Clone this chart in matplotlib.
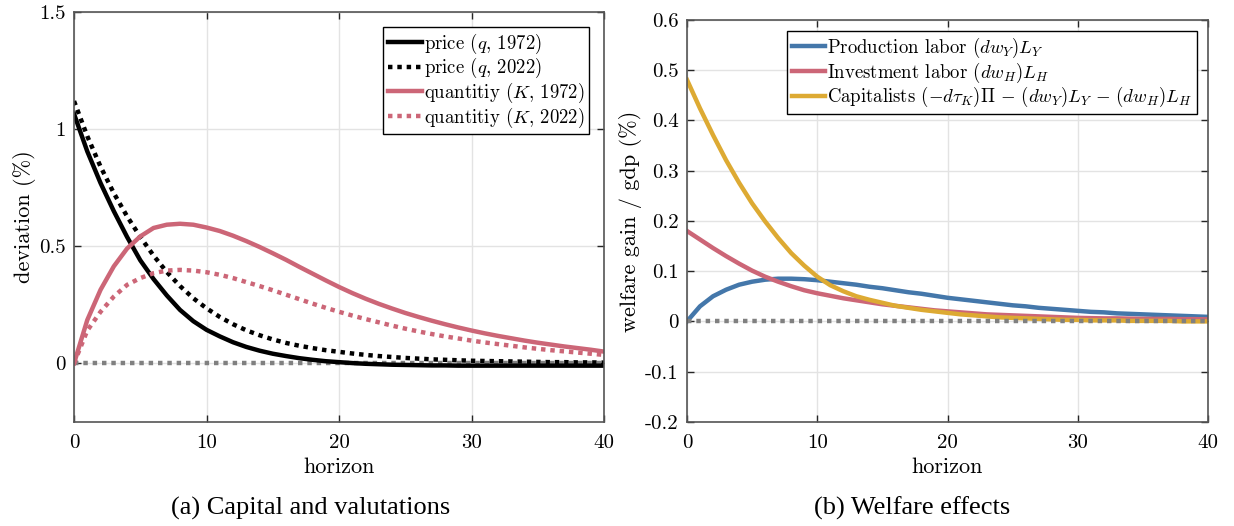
import numpy as np
import matplotlib
matplotlib.use("Agg")
import matplotlib.pyplot as plt

plt.rcParams["font.family"] = "cmr10"
plt.rcParams["mathtext.fontset"] = "cm"
plt.rcParams["axes.unicode_minus"] = False

horizon = np.arange(41)

# panel (a): capital and valuations, % deviation
price_1972 = [1.065, 0.905, 0.77, 0.65, 0.54, 0.44, 0.36, 0.29, 0.228, 0.18,
              0.143, 0.115, 0.09, 0.07, 0.054, 0.041, 0.031, 0.022, 0.015, 0.009,
              0.005, 0.001, -0.002, -0.004, -0.006, -0.007, -0.008, -0.009, -0.009, -0.01,
              -0.01, -0.01, -0.01, -0.01, -0.01, -0.01, -0.01, -0.01, -0.01, -0.01, -0.01]
price_2022 = [1.12, 0.97, 0.84, 0.727, 0.628, 0.54, 0.46, 0.39, 0.33, 0.278,
              0.235, 0.198, 0.167, 0.141, 0.12, 0.102, 0.087, 0.075, 0.065, 0.056,
              0.049, 0.042, 0.036, 0.031, 0.027, 0.023, 0.02, 0.017, 0.015, 0.013,
              0.011, 0.01, 0.009, 0.008, 0.007, 0.006, 0.005, 0.005, 0.004, 0.004, 0.003]
quant_1972 = [0.0, 0.185, 0.314, 0.414, 0.49, 0.542, 0.578, 0.592, 0.596, 0.592,
              0.58, 0.565, 0.545, 0.522, 0.497, 0.47, 0.442, 0.412, 0.383, 0.354,
              0.326, 0.3, 0.276, 0.254, 0.234, 0.215, 0.198, 0.182, 0.167, 0.153,
              0.14, 0.128, 0.117, 0.107, 0.097, 0.088, 0.08, 0.072, 0.065, 0.058, 0.05]
quant_2022 = [0.0, 0.14, 0.22, 0.285, 0.335, 0.364, 0.385, 0.396, 0.399, 0.396,
              0.389, 0.378, 0.364, 0.347, 0.33, 0.312, 0.293, 0.274, 0.255, 0.237,
              0.22, 0.204, 0.189, 0.175, 0.161, 0.148, 0.136, 0.125, 0.115, 0.106,
              0.097, 0.089, 0.082, 0.075, 0.068, 0.062, 0.056, 0.051, 0.046, 0.041, 0.036]

# panel (b): welfare gain / gdp, %
prod_labor = [0.0, 0.03, 0.05, 0.063, 0.073, 0.079, 0.083, 0.085, 0.085, 0.084,
              0.082, 0.079, 0.076, 0.073, 0.069, 0.066, 0.062, 0.058, 0.055, 0.051,
              0.047, 0.044, 0.041, 0.038, 0.035, 0.032, 0.030, 0.027, 0.025, 0.023,
              0.021, 0.019, 0.018, 0.016, 0.015, 0.014, 0.013, 0.012, 0.011, 0.010, 0.009]
inv_labor = [0.18, 0.163, 0.146, 0.13, 0.115, 0.101, 0.089, 0.079, 0.07, 0.062,
             0.056, 0.051, 0.046, 0.042, 0.038, 0.034, 0.031, 0.028, 0.025, 0.022,
             0.020, 0.018, 0.016, 0.014, 0.013, 0.012, 0.011, 0.010, 0.009, 0.008,
             0.007, 0.0065, 0.006, 0.006, 0.0055, 0.005, 0.005, 0.005, 0.0045, 0.0045, 0.004]
capitalists = [0.481, 0.424, 0.371, 0.321, 0.276, 0.235, 0.199, 0.166, 0.136, 0.111,
               0.089, 0.072, 0.060, 0.050, 0.043, 0.037, 0.031, 0.027, 0.023, 0.020,
               0.017, 0.014, 0.012, 0.010, 0.008, 0.007, 0.006, 0.005, 0.004, 0.003,
               0.003, 0.002, 0.002, 0.002, 0.001, 0.001, 0.001, 0.001, 0.0, 0.0, 0.0]

labels_a = [r"price ($q$, 1972)", r"price ($q$, 2022)",
            r"quantitiy ($K$, 1972)", r"quantitiy ($K$, 2022)"]
labels_b = [r"Production labor $(dw_Y)L_Y$",
            r"Investment labor $(dw_H)L_H$",
            r"Capitalists $(-d\tau_K)\Pi\,-\,(dw_Y)L_Y\,-\,(dw_H)L_H$"]

yticks_a = [0, 0.5, 1, 1.5]
yticklabels_a = ["0", "0.5", "1", "1.5"]
yticks_b = [-0.2, -0.1, 0, 0.1, 0.2, 0.3, 0.4, 0.5, 0.6]
yticklabels_b = ["-0.2", "-0.1", "0", "0.1", "0.2", "0.3", "0.4", "0.5", "0.6"]
xticks = [0, 10, 20, 30, 40]

blue = "#4477AA"
red = "#CC6677"
yellow = "#DDAA33"
gray = "#808080"
dots = (0, (1, 1.1))
lw = 3.2

fig = plt.figure(figsize=(12.34, 5.26), dpi=100)
ax1 = fig.add_axes([0.060, 0.198, 0.4295, 0.779])
ax2 = fig.add_axes([0.5567, 0.198, 0.4223, 0.764])


def style(ax):
    ax.set_xlim(0, 40)
    ax.set_xticks(xticks)
    ax.set_xticklabels([str(t) for t in xticks])
    ax.grid(True, color="#e3e3e3", linewidth=1.0)
    ax.set_axisbelow(True)
    ax.tick_params(direction="in", top=True, right=True, length=5,
                   width=1, color="#262626", labelsize=15)
    ax.tick_params(axis="x", pad=9)
    ax.tick_params(axis="y", pad=6)
    for s in ax.spines.values():
        s.set_color("#555555")
        s.set_linewidth(1.2)
    ax.set_xlabel("horizon", fontsize=16, labelpad=4)


# (a)
ax1.plot(horizon, np.zeros(41), color=gray, lw=lw, linestyle=dots)
ax1.plot(horizon, price_1972, color="black", lw=lw, label=labels_a[0])
ax1.plot(horizon, price_2022, color="black", lw=lw, linestyle=dots, label=labels_a[1])
ax1.plot(horizon, quant_1972, color=red, lw=lw, label=labels_a[2])
ax1.plot(horizon, quant_2022, color=red, lw=lw, linestyle=dots, label=labels_a[3])
ax1.set_ylim(-0.25, 1.5)
ax1.set_yticks(yticks_a)
ax1.set_yticklabels(yticklabels_a)
style(ax1)
ax1.set_ylabel("deviation (%)", fontsize=16, labelpad=2)
leg1 = ax1.legend(loc="upper right", fontsize=13.5, handlelength=1.8,
                  handletextpad=0.1, labelspacing=0.02, borderpad=0.25,
                  borderaxespad=0.8, fancybox=False, framealpha=1,
                  edgecolor="black")
leg1.get_frame().set_linewidth(1.0)

# (b)
ax2.plot(horizon, prod_labor, color=blue, lw=lw, label=labels_b[0])
ax2.plot(horizon, inv_labor, color=red, lw=lw, label=labels_b[1])
ax2.plot(horizon, capitalists, color=yellow, lw=lw, label=labels_b[2])
ax2.plot(horizon, np.zeros(41), color=gray, lw=lw, linestyle=dots)
ax2.set_ylim(-0.2, 0.6)
ax2.set_yticks(yticks_b)
ax2.set_yticklabels(yticklabels_b)
style(ax2)
ax2.set_ylabel("welfare gain / gdp (%)", fontsize=16, labelpad=2)
leg2 = ax2.legend(loc="upper right", fontsize=13.5, handlelength=1.8,
                  handletextpad=0.1, labelspacing=0.02, borderpad=0.25,
                  borderaxespad=0.6, fancybox=False, framealpha=1,
                  edgecolor="black")
leg2.get_frame().set_linewidth(1.0)

fig.text(0.2515, 0.022, "(a) Capital and valutations", fontsize=19,
         family="Liberation Serif", ha="center")
fig.text(0.7395, 0.022, "(b) Welfare effects", fontsize=19,
         family="Liberation Serif", ha="center")

fig.savefig("out.png", dpi=100)
